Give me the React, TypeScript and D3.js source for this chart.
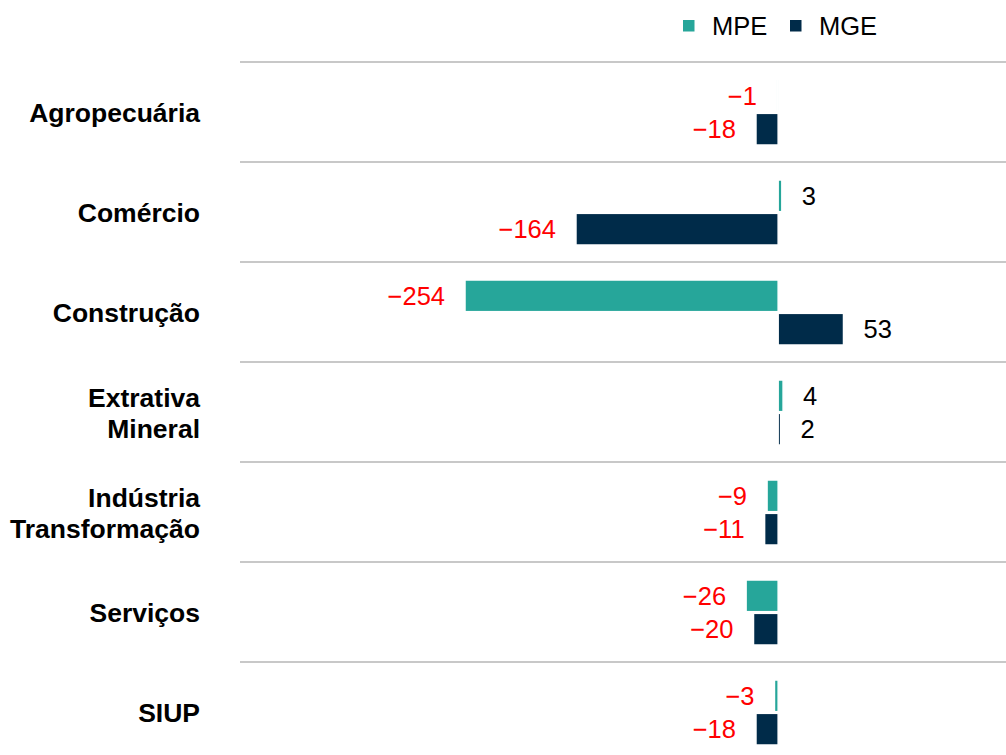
import React, { useEffect, useRef } from "react";
import * as d3 from "d3";

// data
const categories = [
  "Agropecuária",
  "Comércio",
  "Construção",
  "Extrativa Mineral",
  "Indústria Transformação",
  "Serviços",
  "SIUP",
];
const seriesNames = ["MPE", "MGE"];
const mpeValues = [-1, 3, -254, 4, -9, -26, -3];
const mgeValues = [-18, -164, 53, 2, -11, -20, -18];
const seriesColors = ["#26a69a", "#002b49"];

const App = () => {
  const ref = useRef<SVGSVGElement>(null);

  useEffect(() => {
    const svg = d3.select(ref.current);
    svg.selectAll("*").remove();

    const width = 1006;
    const height = 755;
    const font = "'Liberation Sans', Arial, sans-serif";

    // horizontal value scale
    const x = d3.scaleLinear().domain([-254, 53]).range([465, 843.5]);

    // one 100px band per category
    const y = d3
      .scaleBand()
      .domain(categories)
      .range([62, 62 + categories.length * 100]);

    const sub = d3
      .scaleBand()
      .domain(seriesNames)
      .range([18, 83])
      .paddingInner(0.05);

    const fmt = d3.format("d");

    // grid lines on the top of each band
    svg
      .append("g")
      .selectAll("line")
      .data(categories)
      .enter()
      .append("line")
      .attr("x1", 240)
      .attr("x2", width)
      .attr("y1", (d) => y(d)!)
      .attr("y2", (d) => y(d)!)
      .attr("stroke", "#c8c8c8")
      .attr("stroke-width", 2);

    // category labels
    const catLabels = svg
      .append("g")
      .selectAll("text")
      .data(categories)
      .enter()
      .append("text")
      .attr("text-anchor", "end")
      .attr("font-family", font)
      .attr("font-weight", "bold")
      .attr("font-size", 26.5)
      .attr("fill", "#000");

    catLabels.each(function (d) {
      const lines = d.split(" ");
      const cy = y(d)! + y.bandwidth() / 2 + 1;
      const t = d3.select(this);
      lines.forEach((ln, i) => {
        t.append("tspan")
          .attr("x", 200)
          .attr("y", cy + (i - (lines.length - 1) / 2) * 31)
          .attr("dy", "0.35em")
          .text(ln);
      });
    });

    const rows = categories.map((c, i) => ({
      cat: c,
      values: [mpeValues[i], mgeValues[i]],
    }));

    const groups = svg
      .append("g")
      .selectAll("g")
      .data(rows)
      .enter()
      .append("g")
      .attr("transform", (d) => "translate(0," + y(d.cat) + ")");

    const cells = groups
      .selectAll("g")
      .data((d) => d.values.map((v, i) => ({ key: seriesNames[i], value: v, idx: i })))
      .enter()
      .append("g");

    cells
      .append("rect")
      .attr("x", (d) => Math.min(x(0), x(d.value)))
      .attr("width", (d) => Math.abs(x(d.value) - x(0)))
      .attr("y", (d) => sub(d.key)!)
      .attr("height", sub.bandwidth())
      .attr("fill", (d) => seriesColors[d.idx])
      .attr("stroke", "#fff")
      .attr("stroke-width", 1.5);

    cells
      .append("text")
      .attr("x", (d) => (d.value < 0 ? x(d.value) - 20 : x(d.value) + 20))
      .attr("y", (d) => sub(d.key)! + sub.bandwidth() / 2)
      .attr("dy", "0.35em")
      .attr("text-anchor", (d) => (d.value < 0 ? "end" : "start"))
      .attr("font-family", font)
      .attr("font-size", 25.5)
      .attr("fill", (d) => (d.value < 0 ? "#ff0000" : "#000"))
      .text((d) => fmt(d.value));

    // legend
    const legendX = [683, 790];
    const legend = svg
      .append("g")
      .selectAll("g")
      .data(seriesNames)
      .enter()
      .append("g")
      .attr("transform", (d, i) => "translate(" + legendX[i] + ",0)");

    legend
      .append("rect")
      .attr("x", 0)
      .attr("y", 20)
      .attr("width", 11.5)
      .attr("height", 11.5)
      .attr("fill", (d, i) => seriesColors[i]);

    legend
      .append("text")
      .attr("x", 29)
      .attr("y", 26)
      .attr("dy", "0.35em")
      .attr("font-family", font)
      .attr("font-size", 25.5)
      .attr("fill", "#000")
      .text((d) => d);

    svg.attr("width", width).attr("height", height);
  }, []);

  return (
    <svg
      ref={ref}
      width={1006}
      height={755}
      style={{ position: "absolute", left: 0, top: 0, background: "#fff" }}
    />
  );
};

export default App;
